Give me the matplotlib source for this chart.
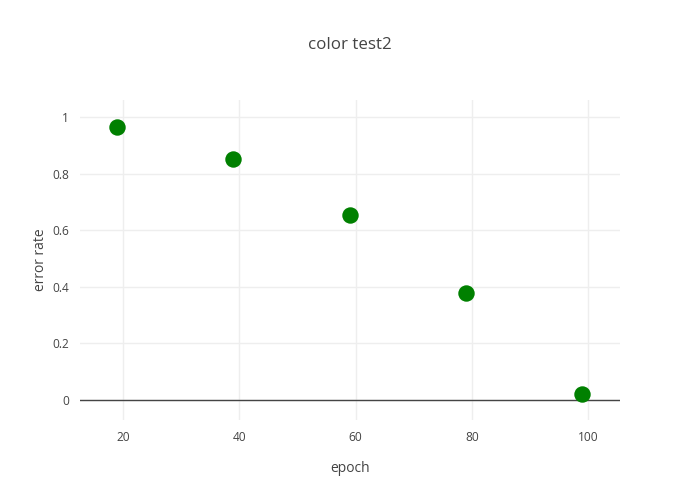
import matplotlib
matplotlib.use("Agg")
import matplotlib.pyplot as plt

plt.rcParams["font.family"] = ["Open Sans", "DejaVu Sans"]

# data
epoch = [19, 39, 59, 79, 99]
error_rate = [0.965, 0.85, 0.655, 0.377, 0.022]
x_ticks = [20, 40, 60, 80, 100]
y_ticks = [0, 0.2, 0.4, 0.6, 0.8, 1]
y_ticklabels = ["0", "0.2", "0.4", "0.6", "0.8", "1"]

TEXT = "#444444"
GRID = "#eeeeee"

fig = plt.figure(figsize=(7, 5), dpi=100)
ax = fig.add_axes([80 / 700, 80 / 500, 540 / 700, 320 / 500])

ax.scatter(epoch, error_rate, s=140, color="green", zorder=3, linewidths=0)

ax.set_xlim(12.6, 105.5)
ax.set_ylim(-0.0707, 1.06)
ax.set_xticks(x_ticks)
ax.set_yticks(y_ticks)
ax.set_yticklabels(y_ticklabels)
ax.grid(True, color=GRID, linewidth=1)
ax.set_axisbelow(True)
ax.axhline(0, color=TEXT, linewidth=1, zorder=2)

for s in ax.spines.values():
    s.set_visible(False)
ax.tick_params(length=0, labelsize=8.6, colors=TEXT, pad=8)

ax.set_xlabel("epoch", fontsize=10, color=TEXT, labelpad=12)
ax.set_ylabel("error rate", fontsize=10, color=TEXT, labelpad=3)
fig.text(0.5, 1 - 45 / 500, "color test2", ha="center", va="center",
         fontsize=12.2, color=TEXT)

fig.savefig("out.png", dpi=100, facecolor="white")
